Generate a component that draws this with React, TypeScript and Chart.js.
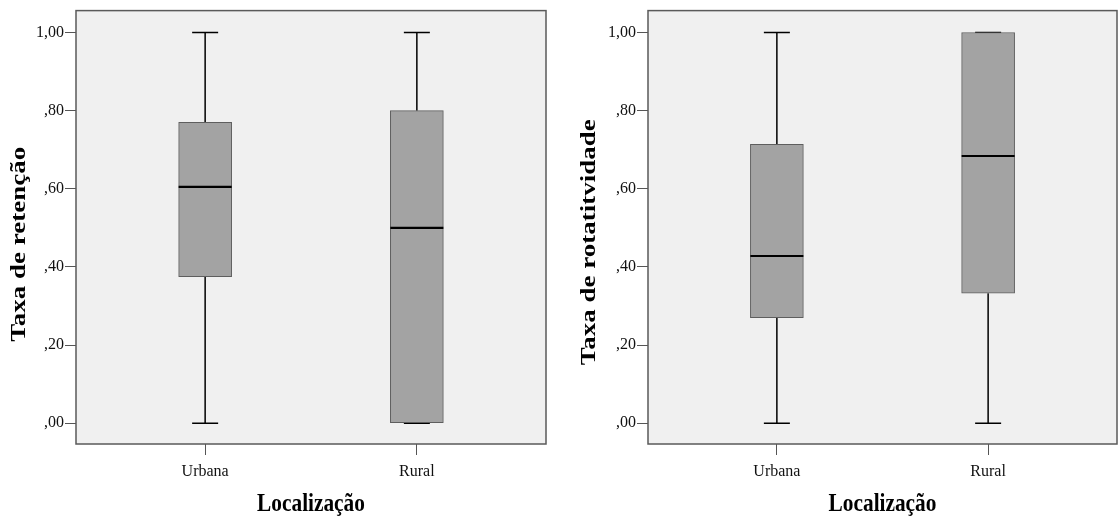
import React, { useEffect, useRef } from 'react';
import { Chart, registerables } from 'chart.js';

Chart.register(...registerables);

// ---- data ----
const CATEGORIES = ['Urbana', 'Rural'];
const CATEGORY_POS = [0, 1];
const Y_TICKS = [0, 0.2, 0.4, 0.6, 0.8, 1.0];
const Y_TICK_LABELS = [',00', ',20', ',40', ',60', ',80', '1,00'];
const X_TITLE = 'Localização';

// Taxa de retenção
const RET_MIN = [0, 0];
const RET_Q1 = [0.375, 0];
const RET_MEDIAN = [0.605, 0.5];
const RET_Q3 = [0.77, 0.8];
const RET_MAX = [1, 1];

// Taxa de rotatitvidade
const ROT_MIN = [0, 0];
const ROT_Q1 = [0.27, 0.333];
const ROT_MEDIAN = [0.428, 0.684];
const ROT_Q3 = [0.714, 1.0];
const ROT_MAX = [1, 1];

const Y_MIN = -0.053;
const Y_MAX = 1.056;
const X_MIN = -0.61;
const X_MAX = 1.61;

const FONT = '"Liberation Serif", "Times New Roman", serif';

type BoxData = { min: number[]; q1: number[]; med: number[]; q3: number[]; max: number[] };

type PanelProps = {
  left: number;
  width: number;
  chartLeft: number;
  chartRight: number;
  yTitle: string;
  yTitleX: number;
  yTitleShift: number;
  data: BoxData;
};

function Panel({ left, width, chartLeft, chartRight, yTitle, yTitleX, yTitleShift, data }: PanelProps) {
  const ref = useRef<HTMLCanvasElement | null>(null);
  useEffect(() => {
    const canvas = ref.current;
    if (!canvas) return;
    const boxPlugin = {
      id: 'boxplotExtras',
      beforeDraw(chart: any) {
        const { ctx, chartArea: a } = chart;
        ctx.save();
        ctx.fillStyle = '#F0F0F0';
        ctx.fillRect(a.left, a.top, a.right - a.left, a.bottom - a.top);
        ctx.restore();
      },
      beforeDatasetsDraw(chart: any) {
        const { ctx } = chart;
        const xs = chart.scales.x;
        const ys = chart.scales.y;
        ctx.save();
        ctx.strokeStyle = '#000';
        ctx.lineWidth = 1.5;
        CATEGORY_POS.forEach((p, i) => {
          const xc = xs.getPixelForValue(p);
          const yMax = ys.getPixelForValue(data.max[i]);
          const yMin = ys.getPixelForValue(data.min[i]);
          const yQ3 = ys.getPixelForValue(data.q3[i]);
          const yQ1 = ys.getPixelForValue(data.q1[i]);
          ctx.beginPath();
          ctx.moveTo(xc, yQ3);
          ctx.lineTo(xc, yMax);
          ctx.moveTo(xc, yQ1);
          ctx.lineTo(xc, yMin);
          ctx.moveTo(xc - 13, yMax);
          ctx.lineTo(xc + 13, yMax);
          ctx.moveTo(xc - 13, yMin);
          ctx.lineTo(xc + 13, yMin);
          ctx.stroke();
        });
        ctx.restore();
      },
      afterDatasetsDraw(chart: any) {
        const { ctx } = chart;
        const xs = chart.scales.x;
        const ys = chart.scales.y;
        ctx.save();
        ctx.strokeStyle = '#000';
        ctx.lineWidth = 2.2;
        CATEGORY_POS.forEach((p, i) => {
          const xc = xs.getPixelForValue(p);
          const ym = ys.getPixelForValue(data.med[i]);
          ctx.beginPath();
          ctx.moveTo(xc - 26.5, ym);
          ctx.lineTo(xc + 26.5, ym);
          ctx.stroke();
        });
        ctx.restore();
      },
      afterDraw(chart: any) {
        const { ctx, chartArea: a } = chart;
        ctx.save();
        ctx.strokeStyle = '#5a5a5a';
        ctx.lineWidth = 1.5;
        ctx.strokeRect(a.left, a.top, a.right - a.left, a.bottom - a.top);
        // y title
        ctx.fillStyle = '#000';
        ctx.font = `bold 27px ${FONT}`;
        ctx.textAlign = 'center';
        ctx.textBaseline = 'alphabetic';
        ctx.save();
        ctx.translate(yTitleX, (a.top + a.bottom) / 2 + yTitleShift);
        ctx.rotate(-Math.PI / 2);
        ctx.scale(1, 0.8);
        ctx.fillText(yTitle, 0, 0);
        ctx.restore();
        // x title
        ctx.save();
        ctx.font = `bold 26px ${FONT}`;
        ctx.translate((a.left + a.right) / 2, 511);
        ctx.scale(0.82, 1);
        ctx.fillText(X_TITLE, 0, 0);
        ctx.restore();
        ctx.restore();
      },
    };

    const chart = new Chart(canvas, {
      type: 'bar',
      data: {
        datasets: [
          {
            data: CATEGORY_POS.map((x, i) => ({ x, y: [data.q1[i], data.q3[i]] })) as any,
            backgroundColor: '#A3A3A3',
            borderColor: '#5E5E5E',
            borderWidth: 1,
            borderSkipped: false,
            barThickness: 53,
          },
        ],
      },
      options: {
        animation: false,
        responsive: false,
        events: [],
        layout: { padding: { left: 0, top: 8, right: width - chartRight, bottom: 0 } },
        plugins: {
          legend: { display: false },
          tooltip: { enabled: false },
          title: { display: false },
        },
        scales: {
          x: {
            type: 'linear',
            min: X_MIN,
            max: X_MAX,
            offset: false,
            afterBuildTicks: (s: any) => {
              s.ticks = CATEGORY_POS.map((v) => ({ value: v }));
            },
            afterFit: (s: any) => {
              s.height = 74;
            },
            ticks: {
              callback: (_v: any, idx: number) => CATEGORIES[idx],
              font: { family: FONT, size: 16 },
              color: '#111',
              padding: 7,
              maxRotation: 0,
              autoSkip: false,
            },
            grid: { offset: false, drawOnChartArea: false, drawTicks: true, tickLength: 11, color: '#555', lineWidth: 1 },
            border: { display: false },
          },
          y: {
            type: 'linear',
            min: Y_MIN,
            max: Y_MAX,
            afterBuildTicks: (s: any) => {
              s.ticks = Y_TICKS.map((v) => ({ value: v }));
            },
            afterFit: (s: any) => {
              s.width = chartLeft;
            },
            ticks: {
              callback: (_v: any, idx: number) => Y_TICK_LABELS[idx],
              font: { family: FONT, size: 16 },
              color: '#111',
              padding: 1,
              autoSkip: false,
            },
            grid: { drawOnChartArea: false, drawTicks: true, tickLength: 11, color: '#555', lineWidth: 1 },
            border: { display: false },
          },
        },
      } as any,
      plugins: [boxPlugin],
    });
    return () => chart.destroy();
  }, []);

  return (
    <div style={{ position: 'absolute', left, top: 0, width, height: 518 }}>
      <canvas ref={ref} width={width} height={518} style={{ width, height: 518, display: 'block' }} />
    </div>
  );
}

export default function App() {
  return (
    <div style={{ position: 'fixed', left: 0, top: 0, width: 1119, height: 518, background: '#fff', overflow: 'hidden' }}>
      <Panel
        left={0}
        width={560}
        chartLeft={76}
        chartRight={546}
        yTitle="Taxa de retenção"
        yTitleX={25}
        yTitleShift={17}
        data={{ min: RET_MIN, q1: RET_Q1, med: RET_MEDIAN, q3: RET_Q3, max: RET_MAX }}
      />
      <Panel
        left={560}
        width={559}
        chartLeft={88}
        chartRight={557}
        yTitle="Taxa de rotatitvidade"
        yTitleX={35}
        yTitleShift={15}
        data={{ min: ROT_MIN, q1: ROT_Q1, med: ROT_MEDIAN, q3: ROT_Q3, max: ROT_MAX }}
      />
    </div>
  );
}
